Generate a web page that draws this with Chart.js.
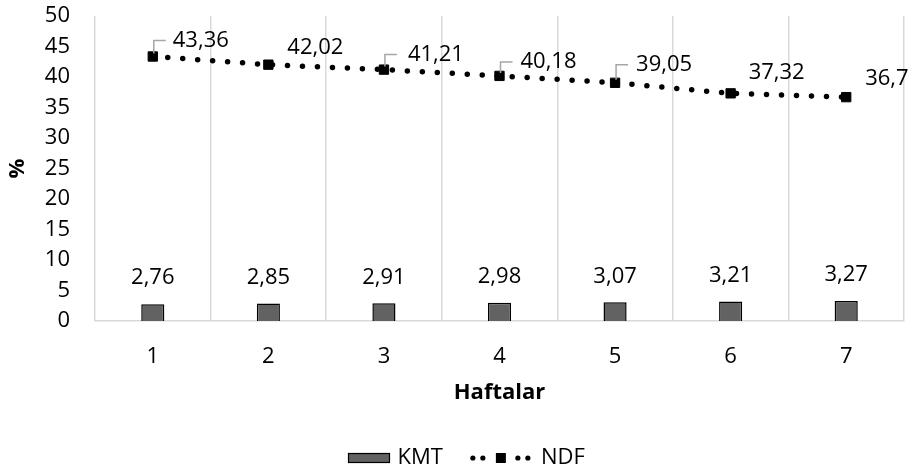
<!DOCTYPE html>
<html>
<head>
<meta charset="utf-8">
<title>KMT ve NDF</title>
<script src="https://cdn.jsdelivr.net/npm/chart.js@4/dist/chart.umd.min.js"></script>
<style>
  html, body { margin: 0; padding: 0; background: #ffffff; }
  #wrap { width: 917px; height: 474px; }
</style>
</head>
<body>
<div id="wrap"><canvas id="chart" width="917" height="474"></canvas></div>
<script>
// Weekly values (%)
const weeks = ['1', '2', '3', '4', '5', '6', '7'];
const kmtValues = [2.76, 2.85, 2.91, 2.98, 3.07, 3.21, 3.27];
const ndfValues = [43.36, 42.02, 41.21, 40.18, 39.05, 37.32, 36.7];
const seriesNames = ['KMT', 'NDF'];
const xTitle = 'Haftalar';
const yTitle = '%';

const FONT = '"Open Sans", "Noto Sans", sans-serif';
const BAR_FILL = '#626262';
const LEADER = '#a6a6a6';

const fmt = v => String(v).replace('.', ',');

// Value labels: bars get a centred label above, the NDF points get labels
// up and to the right, some with a small elbow leader line.
const valueLabels = {
  id: 'valueLabels',
  afterDatasetsDraw(chart, args, opts) {
    const ctx = chart.ctx;
    ctx.save();
    ctx.font = '22px ' + FONT;
    ctx.fillStyle = '#000';
    ctx.textBaseline = 'middle';

    const barMeta = chart.getDatasetMeta(1);
    ctx.textAlign = 'center';
    barMeta.data.forEach((el, i) => {
      ctx.fillText(fmt(chart.data.datasets[1].data[i]), el.x, el.y - opts.barGap);
    });

    const lineMeta = chart.getDatasetMeta(0);
    ctx.textAlign = 'left';
    lineMeta.data.forEach((el, i) => {
      const [dx, dy, leader] = opts.pointOffsets[i];
      const tx = el.x + dx;
      const ty = el.y + dy;
      if (leader) {
        ctx.strokeStyle = LEADER;
        ctx.lineWidth = 1.5;
        ctx.beginPath();
        ctx.moveTo(el.x + 1, el.y - 3);
        ctx.lineTo(el.x + 1, ty);
        ctx.lineTo(el.x + 13, ty);
        ctx.stroke();
      }
      ctx.fillText(fmt(chart.data.datasets[0].data[i]), tx, ty);
    });
    ctx.restore();
  }
};

// Legend under the axis title: filled box for the bars, dotted line with a
// square marker for the line series.
const bottomLegend = {
  id: 'bottomLegend',
  afterDraw(chart, args, opts) {
    const ctx = chart.ctx;
    ctx.save();
    ctx.font = '22px ' + FONT;
    ctx.textBaseline = 'middle';
    ctx.textAlign = 'left';
    const y = chart.height - opts.bottom;
    let x = chart.width / 2 - opts.shift;

    // bar swatch
    ctx.fillStyle = BAR_FILL;
    ctx.fillRect(x, y - 4.5, 41, 9);
    ctx.strokeStyle = '#000';
    ctx.lineWidth = 1.2;
    ctx.strokeRect(x, y - 4.5, 41, 9);
    x += 49;
    ctx.fillStyle = '#000';
    ctx.fillText(seriesNames[0], x, y);
    x += ctx.measureText(seriesNames[0]).width + 30;

    // dotted line swatch
    [0, 10, 45, 55].forEach(o => {
      ctx.beginPath();
      ctx.arc(x + o, y, 2.6, 0, Math.PI * 2);
      ctx.fill();
    });
    ctx.fillRect(x + 28 - 5, y - 5, 10, 10);
    x += 68;
    ctx.fillText(seriesNames[1], x, y);
    ctx.restore();
  }
};

new Chart(document.getElementById('chart'), {
  type: 'bar',
  data: {
    labels: weeks,
    datasets: [
      {
        type: 'line',
        label: seriesNames[1],
        data: ndfValues,
        borderColor: '#000',
        backgroundColor: '#000',
        borderWidth: 5.5,
        borderDash: [0, 15],
        borderCapStyle: 'round',
        tension: 0,
        pointStyle: 'rect',
        pointRadius: 6.6,
        pointBorderWidth: 1,
        pointBackgroundColor: '#000',
        pointBorderColor: '#000'
      },
      {
        type: 'bar',
        label: seriesNames[0],
        data: kmtValues,
        backgroundColor: BAR_FILL,
        borderColor: '#000',
        borderWidth: 1.5,
        barPercentage: 0.2,
        categoryPercentage: 1
      }
    ]
  },
  options: {
    responsive: false,
    animation: false,
    events: [],
    layout: { padding: { left: 0, right: 13, top: 16, bottom: 68 } },
    plugins: {
      legend: { display: false },
      tooltip: { enabled: false },
      valueLabels: {
        barGap: 26,
        pointOffsets: [
          [20, -16, true],
          [19, -17, false],
          [24, -15, true],
          [21, -14, true],
          [21, -18, true],
          [18, -21, false],
          [19, -18, false]
        ]
      },
      bottomLegend: { bottom: 16, shift: 110 }
    },
    scales: {
      x: {
        offset: true,
        grid: { display: true, offset: true, color: '#d9d9d9', lineWidth: 1.5, drawTicks: false },
        border: { display: true, color: '#d9d9d9', width: 1.5 },
        ticks: { color: '#000', padding: 23, font: { family: FONT, size: 22 } },
        title: {
          display: true, text: xTitle, color: '#000',
          padding: { top: 0, bottom: 0 },
          font: { family: FONT, size: 22, weight: 'bold', lineHeight: 1.2 }
        },
        afterFit(scale) {
          scale.height = 85;
          scale.paddingLeft = 0;
          scale.paddingRight = 0;
        }
      },
      y: {
        min: 0,
        max: 50,
        ticks: {
          stepSize: 5, autoSkip: false, color: '#000', padding: 25,
          font: { family: FONT, size: 22 }
        },
        grid: { display: false, drawTicks: false },
        border: { display: false },
        title: {
          display: true, text: yTitle, color: '#000',
          padding: { top: 5, bottom: 0 },
          font: { family: FONT, size: 22, weight: 'bold', lineHeight: 1.2 }
        },
        afterFit(scale) {
          scale.width = 95;
          scale.paddingTop = 0;
          scale.paddingBottom = 0;
        }
      }
    }
  },
  plugins: [valueLabels, bottomLegend]
});
</script>
</body>
</html>
